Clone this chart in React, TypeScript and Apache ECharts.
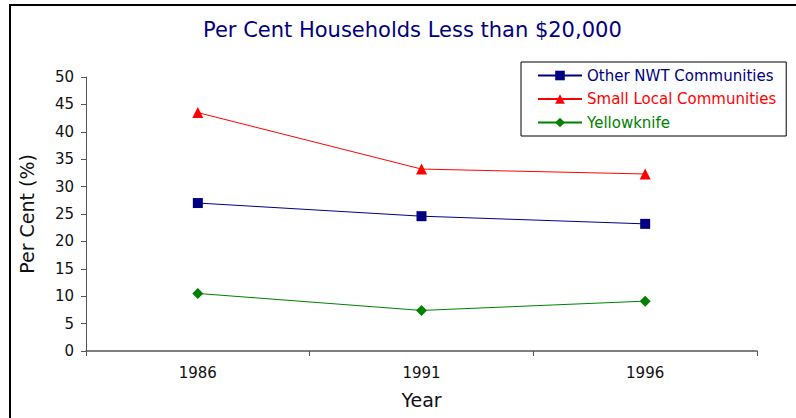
import React, { useEffect, useRef } from "react";
import * as echarts from "echarts";

const years = ["1986", "1991", "1996"];
const otherNWT = [27.0, 24.6, 23.2];
const smallLocal = [43.5, 33.2, 32.3];
const yellowknife = [10.5, 7.4, 9.1];
const titleText = "Per Cent Households Less than $20,000";

const FONT = "DejaVu Sans";

export default function App() {
  const ref = useRef<HTMLDivElement>(null);
  useEffect(() => {
    const chart = echarts.init(ref.current!, null, { renderer: "svg" });
    chart.setOption({
      animation: false,
      backgroundColor: "#ffffff",
      title: {
        text: titleText,
        left: 203,
        top: 19,
        padding: 0,
        textStyle: { color: "#000080", fontFamily: FONT, fontSize: 21, fontWeight: "normal" },
      },
      graphic: [
        {
          type: "rect",
          shape: { x: 10, y: 5, width: 800, height: 430 },
          style: { fill: "none", stroke: "#000", lineWidth: 2 },
          silent: true,
        },
      ],
      legend: {
        orient: "vertical",
        left: 521,
        top: 62,
        width: 266,
        padding: [6, 10, 6, 16],
        itemWidth: 44,
        itemHeight: 12,
        itemGap: 8.5,
        borderColor: "#000",
        borderWidth: 1,
        textStyle: { fontFamily: FONT, fontSize: 15 },
        data: [
          { name: "Other NWT Communities", textStyle: { color: "#000080" } },
          { name: "Small Local Communities", textStyle: { color: "#ff0000" } },
          { name: "Yellowknife", textStyle: { color: "#008000" } },
        ],
      },
      grid: { left: 86, right: 39, top: 77, bottom: 67, containLabel: false },
      xAxis: {
        type: "category",
        data: years,
        boundaryGap: true,
        name: "Year",
        nameLocation: "middle",
        nameGap: 39,
        nameTextStyle: { fontFamily: FONT, fontSize: 19, color: "#111" },
        axisLine: { lineStyle: { color: "#555", width: 1.5 } },
        axisTick: { show: true, length: 5, lineStyle: { color: "#555" } },
        axisLabel: { fontFamily: FONT, fontSize: 15, color: "#111", margin: 14 },
      },
      yAxis: {
        type: "value",
        min: 0,
        max: 50,
        interval: 5,
        name: "Per Cent (%)",
        nameLocation: "middle",
        nameGap: 50,
        nameTextStyle: { fontFamily: FONT, fontSize: 19, color: "#111" },
        axisLine: { show: true, lineStyle: { color: "#555", width: 1 } },
        axisTick: { show: true, length: 5, lineStyle: { color: "#555" } },
        axisLabel: { fontFamily: FONT, fontSize: 15, color: "#111", margin: 12 },
        splitLine: { show: false },
      },
      series: [
        {
          name: "Other NWT Communities",
          type: "line",
          data: otherNWT,
          symbol: "rect",
          symbolSize: 10,
          itemStyle: { color: "#000080" },
          lineStyle: { color: "#000080", width: 1 },
        },
        {
          name: "Small Local Communities",
          type: "line",
          data: smallLocal,
          symbol: "triangle",
          symbolSize: 11,
          itemStyle: { color: "#ff0000" },
          lineStyle: { color: "#ff0000", width: 1 },
        },
        {
          name: "Yellowknife",
          type: "line",
          data: yellowknife,
          symbol: "diamond",
          symbolSize: 11,
          itemStyle: { color: "#008000" },
          lineStyle: { color: "#008000", width: 1 },
        },
      ],
    });
    return () => chart.dispose();
  }, []);
  return (
    <div
      ref={ref}
      style={{ position: "fixed", left: 0, top: 0, width: 796, height: 418 }}
    />
  );
}
